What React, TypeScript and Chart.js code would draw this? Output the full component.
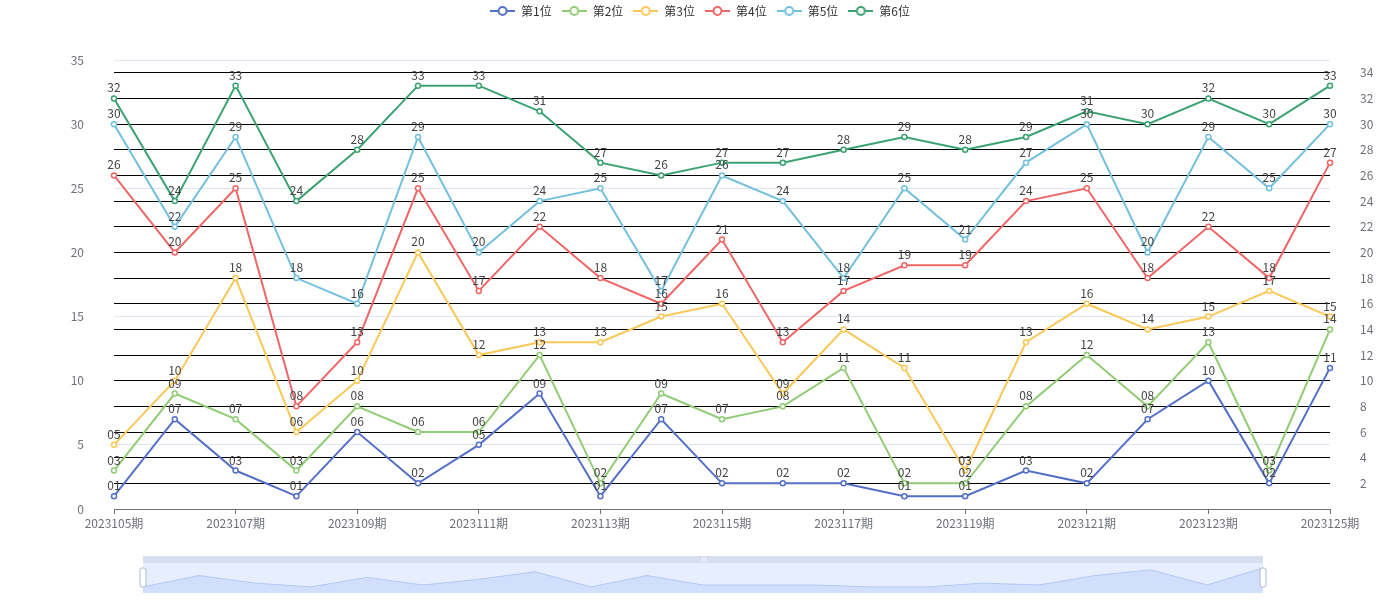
import React, { useEffect, useRef } from 'react';
import { Chart, registerables } from 'chart.js';

Chart.register(...registerables);

const categories = [
  '2023105期', '2023106期', '2023107期', '2023108期', '2023109期', '2023110期', '2023111期',
  '2023112期', '2023113期', '2023114期', '2023115期', '2023116期', '2023117期', '2023118期',
  '2023119期', '2023120期', '2023121期', '2023122期', '2023123期', '2023124期', '2023125期',
];

const seriesNames = ['第1位', '第2位', '第3位', '第4位', '第5位', '第6位'];

const pos1 = [1, 7, 3, 1, 6, 2, 5, 9, 1, 7, 2, 2, 2, 1, 1, 3, 2, 7, 10, 2, 11];
const pos2 = [3, 9, 7, 3, 8, 6, 6, 12, 2, 9, 7, 8, 11, 2, 2, 8, 12, 8, 13, 3, 14];
const pos3 = [5, 10, 18, 6, 10, 20, 12, 13, 13, 15, 16, 9, 14, 11, 3, 13, 16, 14, 15, 17, 15];
const pos4 = [26, 20, 25, 8, 13, 25, 17, 22, 18, 16, 21, 13, 17, 19, 19, 24, 25, 18, 22, 18, 27];
const pos5 = [30, 22, 29, 18, 16, 29, 20, 24, 25, 17, 26, 24, 18, 25, 21, 27, 30, 20, 29, 25, 30];
const pos6 = [32, 24, 33, 24, 28, 33, 33, 31, 27, 26, 27, 27, 28, 29, 28, 29, 31, 30, 32, 30, 33];

const seriesValues = [pos1, pos2, pos3, pos4, pos5, pos6];

const colors = ['#5470c6', '#91cc75', '#fac858', '#ee6666', '#73c0de', '#3ba272'];

const leftAxisMin = 0;
const leftAxisMax = 35;
const leftAxisStep = 5;
const rightAxisStep = 2;

const FONT = "'Noto Sans CJK SC', 'Microsoft YaHei', sans-serif";
const AXIS_COLOR = '#6E7079';

const fmt = (v: number) => (v < 10 ? '0' + v : String(v));

function makeIcon(color: string): HTMLCanvasElement {
  const c = document.createElement('canvas');
  c.width = 25;
  c.height = 14;
  const ctx = c.getContext('2d')!;
  ctx.strokeStyle = color;
  ctx.lineWidth = 2;
  ctx.beginPath();
  ctx.moveTo(0, 7);
  ctx.lineTo(25, 7);
  ctx.stroke();
  ctx.beginPath();
  ctx.arc(12.5, 7, 4, 0, Math.PI * 2);
  ctx.fillStyle = '#fff';
  ctx.fill();
  ctx.stroke();
  return c;
}

const legendFix = {
  id: 'legendFix',
  beforeLayout(chart: any) {
    const lg = chart.legend;
    if (lg && !lg.__fixed) {
      const orig = lg.fit.bind(lg);
      lg.fit = function () {
        orig();
        this.height = 65;
      };
      lg.__fixed = true;
    }
  },
};

const valueLabels = {
  id: 'valueLabels',
  afterDatasetsDraw(chart: any) {
    const ctx = chart.ctx;
    ctx.save();
    ctx.font = `12px ${FONT}`;
    ctx.fillStyle = '#444';
    ctx.textAlign = 'center';
    ctx.textBaseline = 'alphabetic';
    chart.data.datasets.forEach((ds: any, i: number) => {
      const meta = chart.getDatasetMeta(i);
      meta.data.forEach((pt: any, j: number) => {
        ctx.fillText(fmt(ds.data[j]), pt.x, pt.y - 6);
      });
    });
    ctx.restore();
  },
};

const sliderDecor = {
  id: 'sliderDecor',
  beforeDatasetsDraw(chart: any) {
    const { ctx, chartArea } = chart;
    const { left, right, top, bottom } = chartArea;
    ctx.save();
    ctx.fillStyle = '#D7DEF0';
    ctx.fillRect(left, top - 7, right - left, 7);
    ctx.fillStyle = 'rgba(135,175,255,0.2)';
    ctx.fillRect(left, top, right - left, bottom - top);
    ctx.restore();
  },
  afterDraw(chart: any) {
    const { ctx, chartArea } = chart;
    const { left, right, top } = chartArea;
    ctx.save();
    // move handle marks
    const mid = (left + right) / 2;
    ctx.strokeStyle = '#fff';
    ctx.lineWidth = 1;
    for (const dx of [-1.5, 1.5]) {
      ctx.beginPath();
      ctx.moveTo(Math.round(mid + dx) + 0.5, top - 5);
      ctx.lineTo(Math.round(mid + dx) + 0.5, top - 2);
      ctx.stroke();
    }
    // side handles
    for (const x of [left, right]) {
      ctx.beginPath();
      const w = 6;
      const h = 19;
      const y = top + 5;
      const r = 2;
      const x0 = x - w / 2;
      ctx.moveTo(x0 + r, y);
      ctx.lineTo(x0 + w - r, y);
      ctx.quadraticCurveTo(x0 + w, y, x0 + w, y + r);
      ctx.lineTo(x0 + w, y + h - r);
      ctx.quadraticCurveTo(x0 + w, y + h, x0 + w - r, y + h);
      ctx.lineTo(x0 + r, y + h);
      ctx.quadraticCurveTo(x0, y + h, x0, y + h - r);
      ctx.lineTo(x0, y + r);
      ctx.quadraticCurveTo(x0, y, x0 + r, y);
      ctx.closePath();
      ctx.fillStyle = '#fff';
      ctx.fill();
      ctx.strokeStyle = '#ACB8D1';
      ctx.lineWidth = 1;
      ctx.stroke();
    }
    ctx.restore();
  },
};

export default function App() {
  const mainRef = useRef<HTMLCanvasElement>(null);
  const sliderRef = useRef<HTMLCanvasElement>(null);

  useEffect(() => {
    const icons = colors.map(makeIcon);
    const font = { size: 12, family: FONT };

    const main = new Chart(mainRef.current!, {
      type: 'line',
      data: {
        labels: categories,
        datasets: seriesValues.map((d, i) => ({
          label: seriesNames[i],
          data: d,
          borderColor: colors[i],
          backgroundColor: colors[i],
          borderWidth: 2,
          pointRadius: 2.5,
          pointHoverRadius: 2.5,
          pointBorderWidth: 1.5,
          pointBackgroundColor: '#fff',
          pointBorderColor: colors[i],
          tension: 0,
          fill: false,
          order: -i,
          yAxisID: 'y',
        })),
      },
      options: {
        responsive: false,
        animation: false,
        events: [],
        layout: { padding: { top: -5, left: 0, right: 0, bottom: 0 } },
        plugins: {
          legend: {
            position: 'top',
            labels: {
              usePointStyle: true,
              pointStyleWidth: 25,
              padding: 10,
              color: '#333',
              font,
              generateLabels: (c: any) =>
                c.data.datasets.map((ds: any, i: number) => ({
                  text: ds.label,
                  fillStyle: colors[i],
                  strokeStyle: colors[i],
                  lineWidth: 2,
                  pointStyle: icons[i],
                  hidden: false,
                  datasetIndex: i,
                  fontColor: '#333',
                })),
            },
          },
          tooltip: { enabled: false },
        },
        scales: {
          x: {
            type: 'category',
            offset: false,
            grid: {
              display: true,
              drawOnChartArea: false,
              drawTicks: true,
              tickLength: 5,
              color: AXIS_COLOR,
              offset: false,
            },
            border: { display: true, color: AXIS_COLOR },
            ticks: {
              autoSkip: false,
              maxRotation: 0,
              padding: 2,
              color: AXIS_COLOR,
              font,
              callback: (_v: any, i: number) => (i % 2 === 0 ? categories[i] : null),
            },
            afterFit: (s: any) => {
              s.height = 91;
            },
          },
          y: {
            position: 'left',
            min: leftAxisMin,
            max: leftAxisMax,
            ticks: { stepSize: leftAxisStep, padding: 30, color: AXIS_COLOR, font },
            grid: { color: '#E0E6F1', drawTicks: false },
            border: { display: false },
            afterFit: (s: any) => {
              s.width = 114;
            },
          },
          y1: {
            position: 'right',
            min: leftAxisMin,
            max: leftAxisMax,
            ticks: {
              stepSize: rightAxisStep,
              includeBounds: false,
              padding: 30,
              color: AXIS_COLOR,
              font,
              callback: (v: any) => (v === 0 ? null : String(v)),
            },
            grid: { color: '#000', drawTicks: false },
            border: { display: false },
            afterFit: (s: any) => {
              s.width = 70;
            },
          },
        },
      } as any,
      plugins: [legendFix, valueLabels],
    });

    const slider = new Chart(sliderRef.current!, {
      type: 'line',
      data: {
        labels: categories,
        datasets: [
          {
            data: pos1,
            borderColor: '#B3C7F4',
            borderWidth: 1,
            backgroundColor: 'rgba(143,176,247,0.25)',
            pointRadius: 0,
            tension: 0,
            fill: 'start',
          },
        ],
      },
      options: {
        responsive: false,
        animation: false,
        events: [],
        layout: { padding: { top: 7, left: 10, right: 10, bottom: 0 } },
        plugins: { legend: { display: false }, tooltip: { enabled: false } },
        scales: {
          x: { display: false, offset: false },
          y: { display: false, min: -2.2, max: 13.6 },
        },
      } as any,
      plugins: [sliderDecor],
    });

    return () => {
      main.destroy();
      slider.destroy();
    };
  }, []);

  return (
    <div style={{ position: 'absolute', left: 0, top: 0, width: 1400, height: 600, background: '#fff' }}>
      <canvas ref={mainRef} width={1400} height={600} style={{ position: 'absolute', left: 0, top: 0, width: 1400, height: 600 }} />
      <canvas ref={sliderRef} width={1140} height={37} style={{ position: 'absolute', left: 133, top: 556, width: 1140, height: 37 }} />
    </div>
  );
}
